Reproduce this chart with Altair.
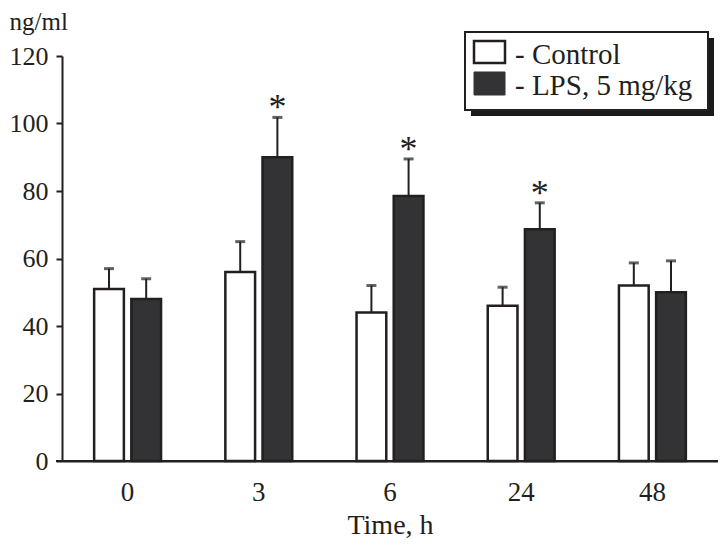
import altair as alt
import pandas as pd

# ---- data ----
times = ["0", "3", "6", "24", "48"]
series = ["Control", "LPS, 5 mg/kg"]
control_mean = [51, 56, 44, 46, 52]
control_err = [6, 9, 8, 5.5, 6.7]
lps_mean = [48, 90, 78.5, 68.7, 50]
lps_err = [6, 11.8, 11, 7.8, 9.3]
lps_sig = ["", "*", "*", "*", ""]
fills = ["#ffffff", "#333335"]
FONT = "Liberation Serif"
INK = "#231f20"

rows = []
for i, t in enumerate(times):
    rows.append({"time": t, "series": series[0], "mean": control_mean[i],
                 "top": control_mean[i] + control_err[i], "sig": ""})
    rows.append({"time": t, "series": series[1], "mean": lps_mean[i],
                 "top": lps_mean[i] + lps_err[i], "sig": lps_sig[i]})
df = pd.DataFrame(rows)

W, H = 656, 405

x = alt.X("time:N", sort=times, axis=alt.Axis(
    title="Time, h", labelAngle=0, ticks=False, domain=True,
    domainColor=INK, domainWidth=2, labelFont=FONT, labelFontSize=27,
    labelColor=INK, labelPadding=18, titleFont=FONT, titleFontSize=28,
    titleFontWeight="normal", titleColor=INK, titlePadding=6),
    scale=alt.Scale(paddingInner=0.49, paddingOuter=0.245))
xo = alt.XOffset("series:N", sort=series, scale=alt.Scale(paddingInner=0.2))
y = alt.Y("mean:Q", scale=alt.Scale(domain=[0, 120], nice=False),
          axis=alt.Axis(values=[0, 20, 40, 60, 80, 100, 120], grid=False,
                        title="ng/ml", titleAngle=0, titleAlign="left",
                        titleBaseline="alphabetic", titleX=-53, titleY=-27,
                        titleFont=FONT, titleFontSize=25, titleFontWeight="normal",
                        titleColor=INK, labelFont=FONT, labelFontSize=26,
                        labelColor=INK, labelPadding=8, tickSize=6,
                        tickWidth=2, tickColor=INK, domainColor=INK,
                        domainWidth=2))

color = alt.Color("series:N", sort=series,
                  scale=alt.Scale(domain=series, range=fills), legend=None)

base = alt.Chart(df)

bars = base.mark_bar(stroke=INK, strokeWidth=2.5).encode(
    x=x, xOffset=xo, y=y, color=color)
err_rule = base.mark_rule(color=INK, strokeWidth=2).encode(
    x=x, xOffset=xo, y=alt.Y("mean:Q"), y2="top:Q")
err_cap = base.mark_tick(color=INK, orient="horizontal", size=10, thickness=3).encode(
    x=x, xOffset=xo, y=alt.Y("top:Q"))
stars = base.mark_text(font=FONT, fontSize=36, color=INK, baseline="alphabetic",
                       dy=2).encode(
    x=x, xOffset=xo, y=alt.Y("top:Q"), text="sig:N")

# x axis line extends slightly left of the y axis
one = pd.DataFrame({"k": [0]})
xline = alt.Chart(one).mark_rule(color=INK, strokeWidth=2).encode(
    x=alt.value(-6), x2=alt.value(W), y=alt.value(H))

# legend box with shadow
shadow = alt.Chart(one).mark_rect(color="#1a1a1a").encode(
    x=alt.value(409), x2=alt.value(652), y=alt.value(-18), y2=alt.value(60))
box = alt.Chart(one).mark_rect(fill="white", stroke=INK, strokeWidth=2).encode(
    x=alt.value(403), x2=alt.value(646), y=alt.value(-24), y2=alt.value(54))
sym_c = alt.Chart(one).mark_rect(fill=fills[0], stroke=INK, strokeWidth=2.5).encode(
    x=alt.value(412), x2=alt.value(443), y=alt.value(-15), y2=alt.value(7))
sym_l = alt.Chart(one).mark_rect(fill=fills[1], stroke=fills[1], strokeWidth=1).encode(
    x=alt.value(412), x2=alt.value(443), y=alt.value(16), y2=alt.value(39))
lab_c = alt.Chart(one).mark_text(font=FONT, fontSize=29, color=INK, align="left",
                                 baseline="alphabetic").encode(
    x=alt.value(453), y=alt.value(8), text=alt.value("- " + series[0]))
lab_l = alt.Chart(one).mark_text(font=FONT, fontSize=29, color=INK, align="left",
                                 baseline="alphabetic").encode(
    x=alt.value(453), y=alt.value(39), text=alt.value("- " + series[1]))

chart = alt.layer(bars, err_rule, err_cap, stars, xline, shadow, box,
                  sym_c, sym_l, lab_c, lab_l).properties(
    width=W, height=H, background="white",
    autosize=alt.AutoSizeParams(type="none"),
    padding={"left": 54, "top": 48, "right": 0, "bottom": 80},
).configure_view(strokeWidth=0, stroke="transparent").configure_axis(grid=False)

chart.save("out.html", embed_options={"renderer": "svg", "actions": False})
